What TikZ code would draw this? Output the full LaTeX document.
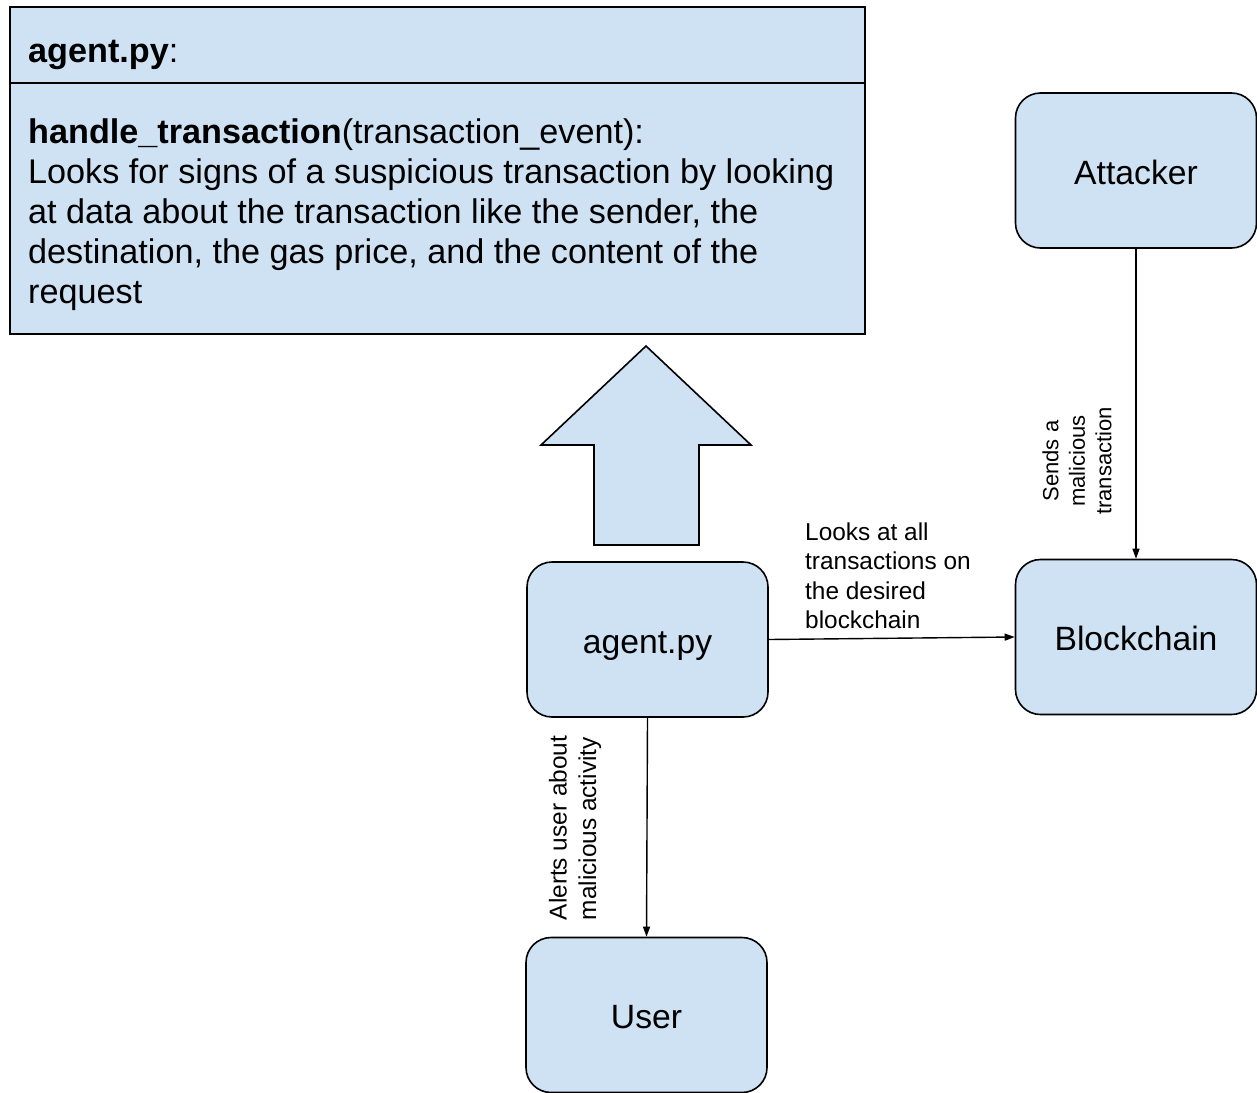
\documentclass[tikz,border=0pt]{standalone}
\usepackage{fontspec}
\setmainfont{Liberation Sans}
\usetikzlibrary{arrows.meta}
\definecolor{boxblue}{HTML}{CFE2F3}
\begin{document}
\begin{tikzpicture}[x=1pt,y=-1pt,
  rbox/.style={draw=black, line width=1.6pt, fill=boxblue, rounded corners=25pt, minimum width=241pt, minimum height=155pt, inner sep=0pt, text height=27pt, text depth=0pt, font=\fontsize{33.7}{40}\selectfont},
  sbox/.style={draw=black, line width=1.6pt, fill=boxblue, inner sep=0pt},
  conn/.style={line width=1.4pt, -{Triangle[length=10pt,width=7pt]}},
  lbl/.style={inner sep=0pt, font=\fontsize{24.4}{29.5}\selectfont},
  body/.style={anchor=base west, inner sep=0pt, font=\fontsize{34.2}{40}\selectfont}]
\useasboundingbox (0,0) rectangle (1257,1092);

% specification box
\node[sbox, minimum width=855pt, minimum height=327pt] (spec) at (437.5,170.5) {};
\draw[line width=1.6pt] (spec.west |- 0,83) -- (spec.east |- 0,83);
\node[body] (t0) at (28,62) {\textbf{agent.py}:};
\node[body] (t1) at (28,143) {\textbf{handle\_transaction}(transaction\_event):};
\node[body] (t2) at (28,183) {Looks for signs of a suspicious transaction by looking};
\node[body] (t3) at (28,223) {at data about the transaction like the sender, the};
\node[body] (t4) at (28,263) {destination, the gas price, and the content of the};
\node[body] (t5) at (28,303) {request};

% block arrow
\draw[line width=1.6pt, fill=boxblue, line join=miter]
  (646,346) -- (751,445) -- (699,445) -- (699,545) -- (594,545) -- (594,445) -- (541,445) -- cycle;

% nodes
\node[rbox] (agent) at (647.5,639.5) {agent.py};
\node[rbox] (attacker) at (1136,170.5) {Attacker};
\node[rbox] (chain) at (1136,637) {Blockchain};
\node[rbox] (user) at (646.5,1015) {User};

% connectors
\draw[conn] (attacker.south) -- (chain.north);
\draw[conn] (agent.east) -- (chain.west);
\draw[conn] (agent.south) -- (user.north);

% labels
\node[lbl, align=left, anchor=west] (l1) at (805,576) {Looks at all\\transactions on\\the desired\\blockchain};
\node[lbl, font=\fontsize{22}{26.5}\selectfont, align=center, rotate=90] (l2) at (1077,461) {Sends a\\malicious\\transaction};
\node[lbl, align=left, rotate=90] (l3) at (575,828) {Alerts user about\\malicious activity};
\end{tikzpicture}
\end{document}
